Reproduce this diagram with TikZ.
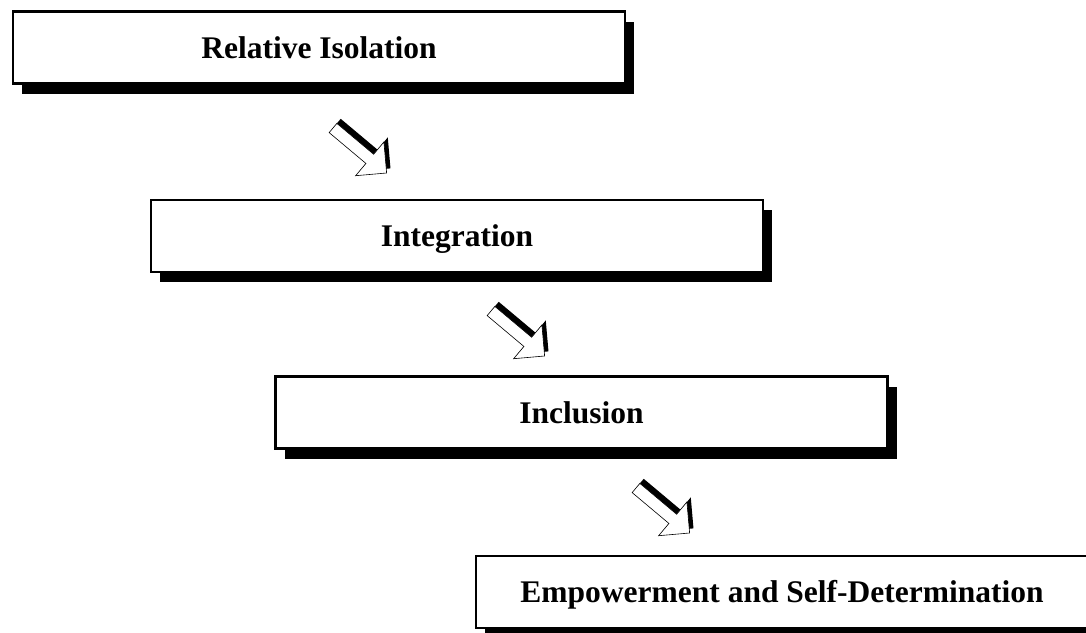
\documentclass[tikz,border=0pt]{standalone}
\usepackage{fontspec}
\setmainfont{Liberation Serif}
\usetikzlibrary{shadows}

\begin{document}
\begin{tikzpicture}[x=1pt, y=-1pt,
	stage/.style={draw, line width=2.4pt, fill=white, minimum width=612pt, minimum height=72pt,
		font=\fontsize{31.5}{36}\selectfont\bfseries, text height=21pt, text depth=0pt,
		general shadow={fill=black, shadow xshift=9pt, shadow yshift=-10pt}},
	blockarrow/.pic={
		\fill[black] (0,-12)--(48,-12)--(48,-28)--(70,-6)--(48,16)--(48,0)--(0,0)--cycle;
		\draw[fill=white, line width=0.6pt] (0,-6)--(48,-6)--(48,-22)--(70,0)--(48,22)--(48,6)--(0,6)--cycle;
	}]
			\useasboundingbox (0,0) rectangle (1086,632);
			\fill[white] (0,0) rectangle (1086,632);
			\node[stage] (isolation) at (319,47.5) {Relative Isolation};
			\node[stage] (integration) at (457,236) {Integration};
			\node[stage] (inclusion) at (581.5,412.5) {Inclusion};
			\node[stage] (empowerment) at (782,592) {Empowerment and Self-Determination};
			\pic[rotate=-40] at (333,128) {blockarrow};
			\pic[rotate=-40] at (491,311) {blockarrow};
			\pic[rotate=-40] at (636,488) {blockarrow};
		\end{tikzpicture}
\end{document}
